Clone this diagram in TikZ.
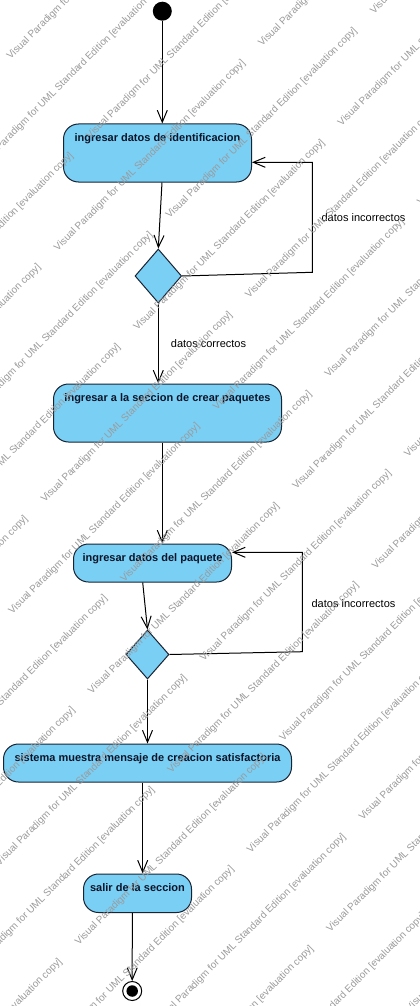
\documentclass[tikz,border=0pt]{standalone}
\usepackage{fontspec}
\setmainfont{Liberation Sans}
\usetikzlibrary{arrows.meta,shapes.geometric}
\definecolor{actfill}{RGB}{122,207,245}
\definecolor{actline}{RGB}{25,35,50}
\definecolor{acttext}{RGB}{10,20,40}
\definecolor{wmgray}{RGB}{155,155,155}

\begin{document}
\begin{tikzpicture}[x=1pt,y=-1pt,
  action/.style={draw=actline, fill=actfill, line width=1pt, rounded corners=15pt,
    inner xsep=0pt, inner ysep=0pt, anchor=north, text=acttext,
    font=\fontsize{11}{13}\bfseries\selectfont, text height=17.5pt},
  decision/.style={diamond, draw=actline, fill=actfill, line width=1pt, inner sep=0pt},
  flow/.style={draw=black, line width=1pt, -{Straight Barb[length=12pt,width=10pt]}},
  guard/.style={font=\fontsize{11}{13}\selectfont, text=black, inner sep=0pt},
  wm/.style={font=\fontsize{10}{12}\selectfont, text=wmgray, inner sep=0pt,
    anchor=base west, rotate=45}
]
\useasboundingbox (0,0) rectangle (420,1006);
\fill[white] (0,0) rectangle (420,1006);
\clip (0,0) rectangle (420,1006);

% initial and final states
\node[circle, fill=black, minimum size=19pt, inner sep=0pt] (start) at (162.3,11.2) {};
\node[circle, draw=black, line width=1pt, fill=white, minimum size=19pt, inner sep=0pt] (stop) at (132.2,991) {};
\node[circle, fill=black, minimum size=11.5pt, inner sep=0pt] (stopdot) at (stop) {};

% actions
\node[action, minimum width=188pt, text depth=40.5pt] (n1) at (157.5,123.5) {ingresar datos de identificacion};
\node[action, minimum width=228pt, text depth=40.5pt] (n2) at (167.5,383.5) {ingresar a la seccion de crear paquetes};
\node[action, minimum width=158pt, text depth=20.5pt] (n3) at (152.5,543.5) {ingresar datos del paquete};
\node[action, minimum width=288pt, text depth=20.5pt] (n4) at (147.5,743.5) {sistema muestra mensaje de creacion satisfactoria};
\node[action, minimum width=108pt, text depth=21pt] (n5) at (137.5,873.5) {salir de la seccion};

% decisions
\node[decision, minimum width=46.6pt, minimum height=54pt] (d1) at (158.3,276) {};
\node[decision, minimum width=43pt, minimum height=49pt] (d2) at (147.5,654.5) {};

% bends of the two loops
\coordinate (k1) at (312.3,272.3);
\coordinate (k2) at (312.3,162.3);
\coordinate (k3) at (302.3,651.7);
\coordinate (k4) at (302.3,552.3);

% control flows
\draw[flow] (start) -- (start |- n1.north);
\draw[flow] ([xshift=4.5pt]n1.south) -- (d1.north);
\draw[flow] (d1.east) -- (k1) -- (k2) -- (k2 -| n1.east);
\draw[flow] (d1.south) -- (d1.south |- n2.north);
\draw[flow] ([xshift=-5.2pt]n2.south) -- ([xshift=-5.2pt]n2.south |- n3.north);
\draw[flow] ([xshift=-9.8pt]n3.south) -- (d2.north);
\draw[flow] (d2.east) -- (k3) -- (k4) -- (k4 -| n3.east);
\draw[flow] (d2.south) -- (d2.south |- n4.north);
\draw[flow] ([xshift=-4.8pt]n4.south) -- ([xshift=-4.8pt]n4.south |- n5.north);
\draw[flow] ([xshift=-5.2pt]n5.south) -- (stop.north);

% guards
\node[guard] (g1) at (363.5,218) {datos incorrectos};
\node[guard] (g2) at (208.5,343.3) {datos correctos};
\node[guard] (g3) at (353.5,603.3) {datos incorrectos};

% tiled watermark
\foreach \j in {0,...,18} {
  \pgfmathsetmacro\wn{50+56.2*\j}
  \pgfmathsetmacro\wo{mod(\j,2)==0 ? 254 : 152}
  \foreach \i in {-4,...,1} {
    \pgfmathsetmacro\wt{\wo+289*\i}
    \pgfmathsetmacro\wx{(\wt+\wn)*0.70711}
    \pgfmathsetmacro\wy{(\wn-\wt)*0.70711}
    \node[wm] (wm-\j-\i) at (\wx,\wy) {Visual Paradigm for UML Standard Edition [evaluation copy]};
  }
}
\end{tikzpicture}
\end{document}
